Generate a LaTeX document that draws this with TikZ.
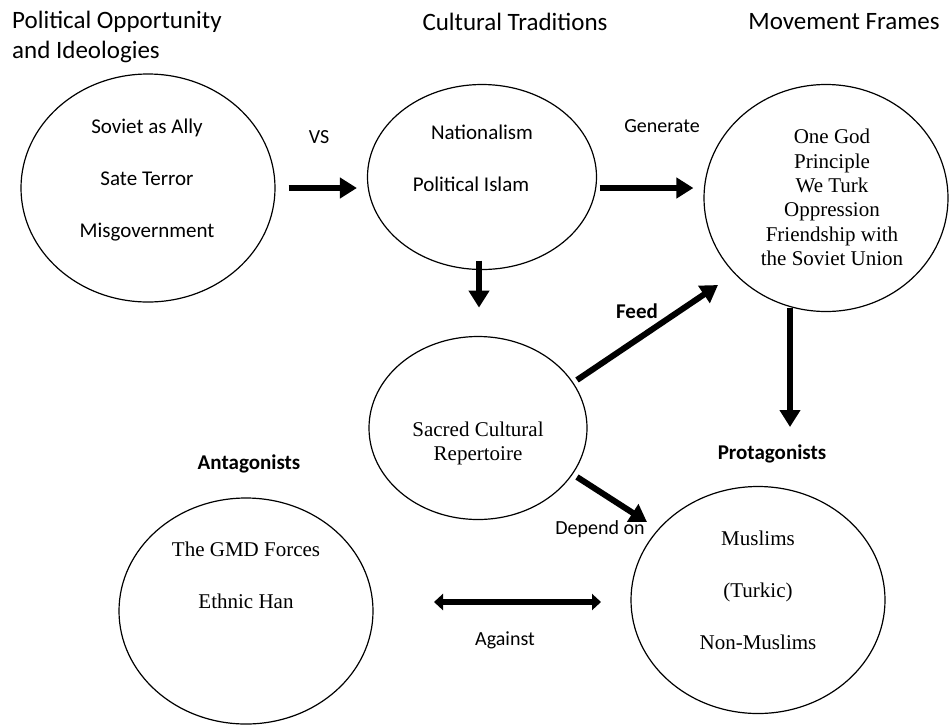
\documentclass[tikz,border=0pt]{standalone}
\usepackage{fontspec}
\setmainfont{Liberation Serif}
\newfontfamily\calibri{Carlito}
\usepackage{tikz}
\usetikzlibrary{shapes,calc}
\usetikzlibrary{arrows.meta}
\tikzstyle{frame}=[
  draw,ellipse,line width=1.2pt,inner sep=0pt
]
\tikzstyle{heading}=[
  font=\calibri\fontsize{25}{30}\selectfont,inner sep=0pt
]
\tikzstyle{sanslines}=[
  font=\calibri\fontsize{21}{52}\selectfont,align=center,inner sep=0pt
]
\tikzstyle{seriflines}=[
  font=\fontsize{21}{52}\selectfont,align=center,inner sep=0pt
]
\tikzstyle{serifdense}=[
  font=\fontsize{21}{24.3}\selectfont,align=center,inner sep=0pt
]
\tikzstyle{tag}=[
  font=\calibri\fontsize{20}{24}\selectfont,inner sep=0pt
]
\tikzstyle{boldtag}=[
  font=\calibri\bfseries\fontsize{21}{25}\selectfont,inner sep=0pt
]
\tikzstyle{fat}=[
  line width=6pt,-{Triangle[length=17pt,width=20pt]}
]
\tikzstyle{fatboth}=[
  line width=6pt,{Triangle[length=9pt,width=16pt]}-{Triangle[length=9pt,width=16pt]}
]

\begin{document}
\begin{tikzpicture}[x=1pt,y=-1pt]
    \useasboundingbox (0,0) rectangle (950,724);
        % headings
        \node (hpol) at (12,37) [heading,anchor=west,align=left] {Political Opportunity\\and Ideologies};
        \node (hcult) at (515,22) [heading] {Cultural Traditions};
        \node (hmove) at (844,22) [heading] {Movement Frames};

        % ellipses
        \node (ideo) at (148,188) [frame,minimum width=254pt,minimum height=228pt] {};
        \node (trad) at (482,177) [frame,minimum width=229pt,minimum height=185pt] {};
        \node (frames) at (826,198) [frame,minimum width=244pt,minimum height=227pt] {};
        \node (sacred) at (478,428) [frame,minimum width=218pt,minimum height=183pt] {};
        \node (antag) at (246,611) [frame,minimum width=254pt,minimum height=226pt] {};
        \node (prot) at (758,600) [frame,minimum width=254pt,minimum height=227pt] {};

        % texts inside
        \node (ideotext) at (147,180) [sanslines] {Soviet as Ally\\Sate Terror\\Misgovernment};
        \node (nat) at (482,132) [sanslines] {Nationalism};
        \node (islam) at (471,184) [sanslines] {Political Islam};
        \node (framestext) at (832,197.5) [serifdense] {One God\\Principle\\We Turk\\Oppression\\Friendship with\\the Soviet Union};
        \node (sacredtext) at (478,443.5) [serifdense] {Sacred Cultural\\Repertoire};
        \node (antagtext) at (246,575.5) [seriflines] {The GMD Forces\\Ethnic Han};
        \node (prottext) at (758,590) [seriflines] {Muslims\\(Turkic)\\Non-Muslims};

        % labels
        \node (vs) at (319,137) [tag] {VS};
        \node (gen) at (662,126) [tag] {Generate};
        \node (feed) at (637,311) [boldtag] {Feed};
        \node (protlbl) at (772,454) [boldtag] {Protagonists};
        \node (antaglbl) at (249,464) [boldtag] {Antagonists};
        \node (dep) at (600,529) [tag] {Depend on};
        \node (against) at (505,640) [tag] {Against};

        % arrows
        \draw [fat,shorten <=13pt,shorten >=10pt] (ideo.east) -- (ideo.east -| trad.west);
        \draw [fat,shorten <=2.5pt,shorten >=10pt] (trad.east |- ideo.east) -- (frames.west |- ideo.east);
        \draw [fat] ($(trad.south)+(-3,-9.5)$) -- ($(trad.south)+(-3,37.5)$);
        \draw [fat] ($(sacred)+(99,-48)$) -- ($(frames)+(-108,87)$);
        \draw [fat] ($(frames)+(-36,110)$) -- ($(frames)+(-36,229)$);
        \draw [fat] ($(sacred)+(99,49)$) -- ($(prot)+(-111,-78)$);
        \draw [fatboth] ($(antag)+(188,-9)$) -- ($(prot)+(-157,2)$);
\end{tikzpicture}
\end{document}
